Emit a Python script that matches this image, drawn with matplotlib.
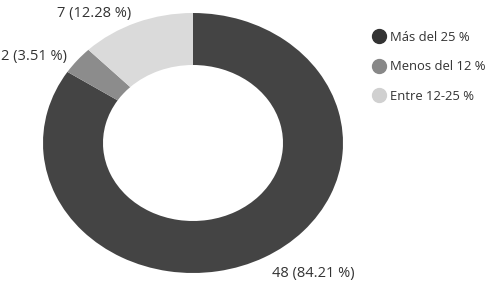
import numpy as np
import matplotlib
matplotlib.use('Agg')
import matplotlib.pyplot as plt
from matplotlib.lines import Line2D

plt.rcParams['font.family'] = ['Open Sans', 'DejaVu Sans']

categories = ['Más del 25 %', 'Menos del 12 %', 'Entre 12-25 %']
values = [48, 2, 7]
colors = ['#444444', '#8c8c8c', '#dadada']
legend_colors = ['#333333', '#888888', '#d0d0d0']

W, H = 490, 284
fig = plt.figure(figsize=(W / 100, H / 100), dpi=100)

# ellipse bounding box in pixels (the donut is stretched horizontally)
left, top, right, bottom = 43, 13, 343, 273
ax = fig.add_axes([left / W, (H - bottom) / H, (right - left) / W, (bottom - top) / H])

wedges, _ = ax.pie(values, colors=colors, startangle=90, counterclock=False,
                   radius=1, wedgeprops=dict(width=0.4, linewidth=0))
ax.set_aspect('auto')
ax.set_xlim(-1, 1)
ax.set_ylim(-1, 1)
ax.axis('off')

total = sum(values)
# per-label nudges in pixels (dx, dy)
nudges = [(0, -5), (1, -4), (0, -3)]
for w, v, (dx, dy) in zip(wedges, values, nudges):
    ang = np.deg2rad((w.theta1 + w.theta2) / 2)
    x, y = 1.1 * np.cos(ang), 1.1 * np.sin(ang)
    ha = 'left' if x > 0 else 'right'
    ax.annotate(f'{v} ({v / total * 100:.2f} %)', xy=(x, y), xytext=(dx * 0.72, dy * 0.72),
                textcoords='offset points', ha=ha, va='center', fontsize=10.5,
                color='#333333', annotation_clip=False)

handles = [Line2D([0], [0], marker='o', linestyle='none', markersize=10,
                  markerfacecolor=c, markeredgecolor=c) for c in legend_colors]
fig.legend(handles, categories, loc='upper left', bbox_to_anchor=(372 / W, 1 - 31 / H),
           frameon=False, fontsize=9.4, labelspacing=1.25, handlelength=1.0,
           handletextpad=0.35, borderpad=0, borderaxespad=0, labelcolor='#333333')

fig.savefig('out.png', dpi=100)
